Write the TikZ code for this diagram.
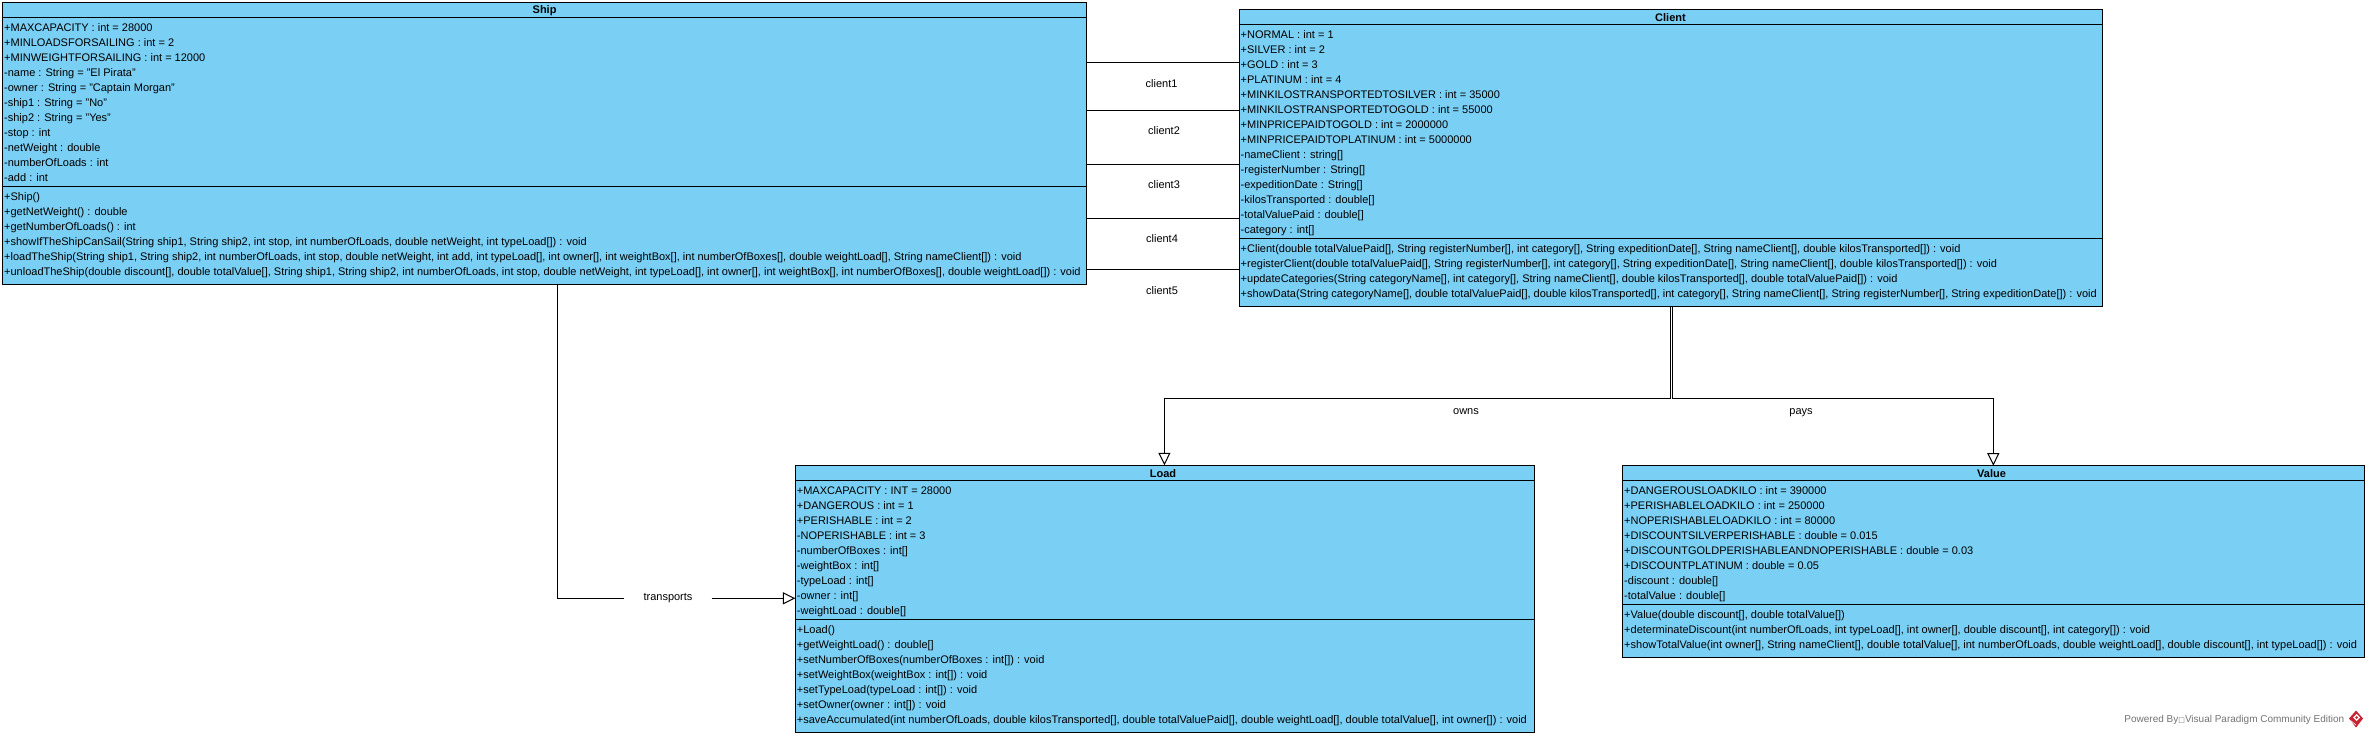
\documentclass[tikz,border=0pt]{standalone}
\usepackage{fontspec}
\setmainfont{Liberation Sans}
\newfontfamily\symfont{DejaVu Sans}
\usetikzlibrary{arrows.meta}
\definecolor{umlblue}{RGB}{122,207,245}
\definecolor{vpred}{RGB}{200,35,50}
\newcommand{\firstline}{\rule{0pt}{9.65pt}}
\tikzset{
  classbox/.style={draw=black,fill=umlblue,line width=1pt,anchor=north west,inner sep=0pt,outer sep=0pt},
  umltitle/.style={font=\fontsize{11}{15}\selectfont\bfseries,inner sep=0pt,anchor=center},
  members/.style={font=\fontsize{11}{15}\selectfont,align=left,anchor=north west,inner sep=0pt},
  divider/.style={line width=1pt},
  assoc/.style={line width=1pt},
  realize/.style={line width=1pt,-{Triangle[open,fill=white,length=12.5pt,width=12pt]}},
  label/.style={font=\fontsize{11}{15}\selectfont,inner sep=0pt,anchor=center},
  gaplabel/.style={label,fill=white,minimum width=87pt,minimum height=14pt}
}
\begin{document}
\begin{tikzpicture}[x=1pt,y=1pt]
\useasboundingbox (0,0) rectangle (2368,-736);
\fill[white] (0,0) rectangle (2368,-736);

% Ship
\node[classbox,minimum width=1084pt,minimum height=281.3pt] (ship) at (2.7,-2.7) {};
\node[umltitle] (shipT) at (544.6,-10.3) {Ship};
\draw[divider] (ship.west |- 0,-17.3) -- (ship.east |- 0,-17.3);
\draw[divider] (ship.west |- 0,-186.3) -- (ship.east |- 0,-186.3);
\node[members] (shipA) at (4,-21.3) {\firstline +MAXCAPACITY : int = 28000\\
+MINLOADSFORSAILING : int = 2\\
+MINWEIGHTFORSAILING : int = 12000\\
-name : String = "El Pirata"\\
-owner : String = "Captain Morgan"\\
-ship1 : String = "No"\\
-ship2 : String = "Yes"\\
-stop : int\\
-netWeight : double\\
-numberOfLoads : int\\
-add : int};
\node[members] (shipO) at (4,-190.6) {\firstline +Ship()\\
+getNetWeight() : double\\
+getNumberOfLoads() : int\\
+showIfTheShipCanSail(String ship1, String ship2, int stop, int numberOfLoads, double netWeight, int typeLoad[]) : void\\
+loadTheShip(String ship1, String ship2, int numberOfLoads, int stop, double netWeight, int add, int typeLoad[], int owner[], int weightBox[], int numberOfBoxes[], double weightLoad[], String nameClient[]) : void\\
+unloadTheShip(double discount[], double totalValue[], String ship1, String ship2, int numberOfLoads, int stop, double netWeight, int typeLoad[], int owner[], int weightBox[], int numberOfBoxes[], double weightLoad[]) : void};

% Client
\node[classbox,minimum width=863.6pt,minimum height=297pt] (client) at (1239,-9.3) {};
\node[umltitle] (clientT) at (1670.5,-17.3) {Client};
\draw[divider] (client.west |- 0,-24.3) -- (client.east |- 0,-24.3);
\draw[divider] (client.west |- 0,-238.7) -- (client.east |- 0,-238.7);
\node[members] (clientA) at (1240.5,-28.6) {\firstline +NORMAL : int = 1\\
+SILVER : int = 2\\
+GOLD : int = 3\\
+PLATINUM : int = 4\\
+MINKILOSTRANSPORTEDTOSILVER : int = 35000\\
+MINKILOSTRANSPORTEDTOGOLD : int = 55000\\
+MINPRICEPAIDTOGOLD : int = 2000000\\
+MINPRICEPAIDTOPLATINUM : int = 5000000\\
-nameClient : string[]\\
-registerNumber : String[]\\
-expeditionDate : String[]\\
-kilosTransported : double[]\\
-totalValuePaid : double[]\\
-category : int[]};
\node[members] (clientO) at (1240.5,-242.6) {\firstline +Client(double totalValuePaid[], String registerNumber[], int category[], String expeditionDate[], String nameClient[], double kilosTransported[]) : void\\
+registerClient(double totalValuePaid[], String registerNumber[], int category[], String expeditionDate[], String nameClient[], double kilosTransported[]) : void\\
+updateCategories(String categoryName[], int category[], String nameClient[], double kilosTransported[], double totalValuePaid[]) : void\\
+showData(String categoryName[], double totalValuePaid[], double kilosTransported[], int category[], String nameClient[], String registerNumber[], String expeditionDate[]) : void};

% Load
\node[classbox,minimum width=738.6pt,minimum height=267.4pt] (load) at (795.4,-465.3) {};
\node[umltitle] (loadT) at (1163,-473.3) {Load};
\draw[divider] (load.west |- 0,-480.3) -- (load.east |- 0,-480.3);
\draw[divider] (load.west |- 0,-619.3) -- (load.east |- 0,-619.3);
\node[members] (loadA) at (796.7,-484.3) {\firstline +MAXCAPACITY : INT = 28000\\
+DANGEROUS : int = 1\\
+PERISHABLE : int = 2\\
-NOPERISHABLE : int = 3\\
-numberOfBoxes : int[]\\
-weightBox : int[]\\
-typeLoad : int[]\\
-owner : int[]\\
-weightLoad : double[]};
\node[members] (loadO) at (796.7,-623.6) {\firstline +Load()\\
+getWeightLoad() : double[]\\
+setNumberOfBoxes(numberOfBoxes : int[]) : void\\
+setWeightBox(weightBox : int[]) : void\\
+setTypeLoad(typeLoad : int[]) : void\\
+setOwner(owner : int[]) : void\\
+saveAccumulated(int numberOfLoads, double kilosTransported[], double totalValuePaid[], double weightLoad[], double totalValue[], int owner[]) : void};

% Value
\node[classbox,minimum width=742.1pt,minimum height=191.6pt] (value) at (1622.5,-465.7) {};
\node[umltitle] (valueT) at (1991.5,-473.3) {Value};
\draw[divider] (value.west |- 0,-480.3) -- (value.east |- 0,-480.3);
\draw[divider] (value.west |- 0,-604.3) -- (value.east |- 0,-604.3);
\node[members] (valueA) at (1624,-484.3) {\firstline +DANGEROUSLOADKILO : int = 390000\\
+PERISHABLELOADKILO : int = 250000\\
+NOPERISHABLELOADKILO : int = 80000\\
+DISCOUNTSILVERPERISHABLE : double = 0.015\\
+DISCOUNTGOLDPERISHABLEANDNOPERISHABLE : double = 0.03\\
+DISCOUNTPLATINUM : double = 0.05\\
-discount : double[]\\
-totalValue : double[]};
\node[members] (valueO) at (1624,-608.6) {\firstline +Value(double discount[], double totalValue[])\\
+determinateDiscount(int numberOfLoads, int typeLoad[], int owner[], double discount[], int category[]) : void\\
+showTotalValue(int owner[], String nameClient[], double totalValue[], int numberOfLoads, double weightLoad[], double discount[], int typeLoad[]) : void};

% client associations
\draw[assoc] (ship.east |- 0,-62.3) -- (client.west |- 0,-62.3);
\draw[assoc] (ship.east |- 0,-110.3) -- (client.west |- 0,-110.3);
\draw[assoc] (ship.east |- 0,-164.3) -- (client.west |- 0,-164.3);
\draw[assoc] (ship.east |- 0,-218.3) -- (client.west |- 0,-218.3);
\draw[assoc] (ship.east |- 0,-269.3) -- (client.west |- 0,-269.3);
\node[label] (c1) at (1161.6,-83.3) {client1};
\node[label] (c2) at (1164,-130.3) {client2};
\node[label] (c3) at (1164,-184.3) {client3};
\node[label] (c4) at (1162,-238.3) {client4};
\node[label] (c5) at (1162,-290.3) {client5};

% owns / pays
\coordinate (jL) at (1670.5,-398);
\coordinate (jR) at (1672.5,-398);
\draw[realize] (client.south -| jL) -- (jL) -| (load.north -| 1164.4,0);
\draw[realize] (client.south -| jR) -- (jR) -| (value.north -| 1993.3,0);
\node[label] (owns) at (1466,-412) {owns};
\node[label] (pays) at (1801,-413) {pays};

% transports
\node[gaplabel] (tr) at (668,-598.3) {transports};
\draw[assoc] (ship.south -| 557,0) |- (tr.west);
\draw[realize] (tr.east) -- (load.west |- tr.east);

% watermark
\node[font=\fontsize{10}{12}\selectfont,text=black!55,anchor=east,inner sep=0pt] (pb) at (2344.5,-720) {Powered By{\symfont\fontsize{7}{8}\selectfont □}Visual Paradigm Community Edition};
\fill[vpred] (2356,-710.5) -- (2363,-718.5) -- (2356,-727.5) -- (2349,-718.5) -- cycle;
\fill[white] (2356.5,-714) -- (2360,-717.5) -- (2356.5,-721) -- (2353,-717.5) -- cycle;
\fill[vpred] (2356.5,-716) -- (2358,-717.5) -- (2356.5,-719) -- (2355,-717.5) -- cycle;
\draw[white,line width=0.6pt] (2350.5,-720.5) -- (2356,-725);
\end{tikzpicture}
\end{document}
